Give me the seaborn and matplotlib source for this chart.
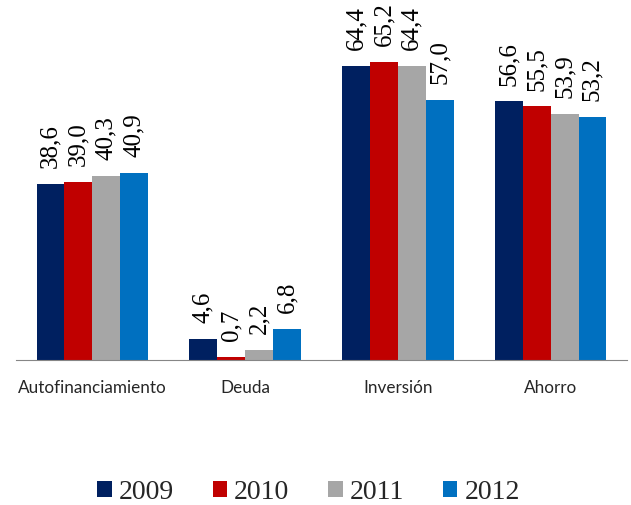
import matplotlib
matplotlib.use("Agg")
import matplotlib.pyplot as plt
import seaborn as sns
import pandas as pd
import numpy as np

categories = ["Autofinanciamiento", "Deuda", "Inversión", "Ahorro"]
years = ["2009", "2010", "2011", "2012"]
v2009 = [38.6, 4.6, 64.4, 56.6]
v2010 = [39.0, 0.7, 65.2, 55.5]
v2011 = [40.3, 2.2, 64.4, 53.9]
v2012 = [40.9, 6.8, 57.0, 53.2]
colors = ["#002060", "#C00000", "#A6A6A6", "#0070C0"]

rows = []
for y, vals in zip(years, [v2009, v2010, v2011, v2012]):
    for c, v in zip(categories, vals):
        rows.append({"cat": c, "year": y, "val": v})
df = pd.DataFrame(rows)

sns.set_style("white")
fig = plt.figure(figsize=(6.31, 5.06), dpi=100)
ax = fig.add_axes([16/631, (506-361)/506, (627-16)/631, 361/506])

sns.barplot(data=df, x="cat", y="val", hue="year", order=categories,
            hue_order=years, palette=colors, width=0.73, gap=0,
            ax=ax, legend=False, saturation=1, edgecolor="none")

ax.set_ylim(0, 79)
ax.set_xlim(-0.5, 3.5)
for cont in ax.containers:
    labels = [f"{v:.1f}".replace(".", ",") for v in cont.datavalues]
    ax.bar_label(cont, labels=labels, rotation=90, padding=12,
                 fontsize=18, family="Liberation Serif", color="black")

for s in ["top", "left", "right"]:
    ax.spines[s].set_visible(False)
ax.spines["bottom"].set_color("#868686")
ax.set_yticks([])
ax.set_xlabel("")
ax.set_ylabel("")
ax.set_xticks(range(4))
ax.set_xticklabels(categories, fontsize=12.3, family="Lato")
ax.tick_params(axis="x", which="major", length=0, pad=14)
ax.set_xticks([-0.5, 0.5, 1.5, 2.5, 3.5], minor=True)
ax.tick_params(axis="x", which="minor", length=6, color="#868686", direction="out")

from matplotlib.patches import Patch
handles = [Patch(facecolor=c, edgecolor="none") for c in colors]
fig.legend(handles, years, loc="center", bbox_to_anchor=(0.489, 1 - 493/506),
           ncol=4, frameon=False, prop={"family": "Liberation Serif", "size": 20},
           handlelength=0.52, handleheight=0.52, handletextpad=0.25,
           columnspacing=1.4, borderpad=0, borderaxespad=0)

fig.savefig("out.png", dpi=100)
